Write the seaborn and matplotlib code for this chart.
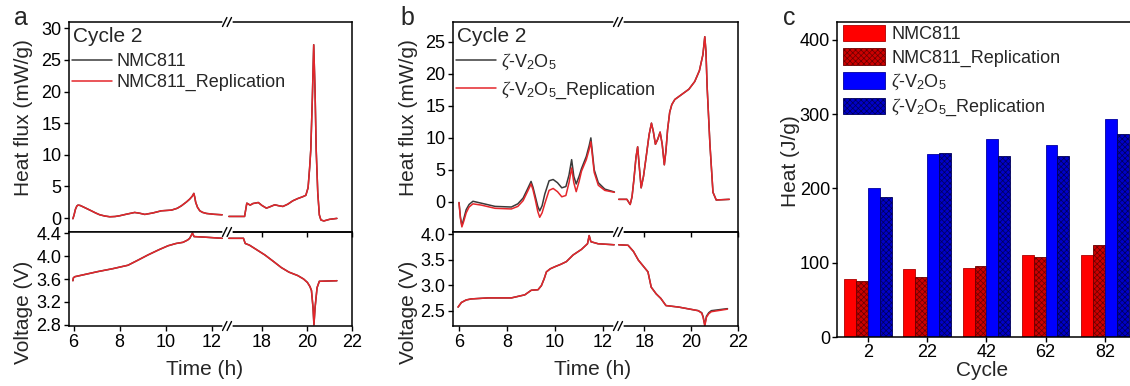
import numpy as np
import pandas as pd
import matplotlib
matplotlib.use("Agg")
import matplotlib.pyplot as plt
from matplotlib.lines import Line2D
import seaborn as sns

# ---------------- data ----------------
# Panel a : NMC811, cycle 2 -- heat flux (mW/g)
a_hf_t1 = [5.97, 6.02, 6.08, 6.14, 6.19, 6.28, 6.40, 6.60, 6.77, 6.95, 7.13, 7.35, 7.57, 7.80, 8.00, 8.30, 8.65, 8.85, 9.09, 9.45,
           9.81, 10.25, 10.50, 10.68, 10.90, 11.04, 11.15, 11.22, 11.26, 11.30, 11.38, 11.48, 11.60, 11.77, 12.10, 12.45]
a_hf_nmc1 = [-0.1, 0.5, 1.4, 1.9, 2.05, 2.0, 1.8, 1.45, 1.15, 0.82, 0.53, 0.33, 0.21, 0.25, 0.37, 0.62, 0.89, 0.78, 0.58, 0.82,
             1.15, 1.26, 1.55, 1.94, 2.55, 3.0, 3.45, 3.9, 3.3, 2.5, 1.7, 1.15, 0.9, 0.73, 0.6, 0.52]
a_hf_rep1 = [-0.1, 0.5, 1.4, 1.9, 2.05, 2.0, 1.8, 1.45, 1.15, 0.82, 0.53, 0.33, 0.21, 0.25, 0.37, 0.62, 0.89, 0.78, 0.58, 0.82,
             1.15, 1.26, 1.55, 1.94, 2.55, 3.0, 3.45, 3.9, 3.3, 2.5, 1.7, 1.15, 0.9, 0.73, 0.6, 0.52]
a_hf_t2 = [16.53, 17.23, 17.33, 17.48, 17.60, 17.84, 18.00, 18.20, 18.40, 18.57, 18.75, 18.93, 19.15, 19.37, 19.60, 19.80, 19.95,
           20.05, 20.12, 20.17, 20.24, 20.30, 20.36, 20.41, 20.48, 20.55, 20.62, 20.75, 21.00, 21.33]
a_hf_nmc2 = [0.26, 0.26, 2.36, 2.05, 2.3, 2.46, 2.0, 1.57, 1.85, 2.1, 1.95, 1.84, 2.2, 2.73, 3.1, 3.36, 3.6,
             4.8, 8.0, 10.8, 19.0, 27.4, 20.0, 10.8, 4.0, 0.5, -0.3, -0.45, -0.2, -0.05]
a_hf_rep2 = [0.26, 0.26, 2.36, 2.05, 2.3, 2.46, 2.0, 1.57, 1.85, 2.1, 1.95, 1.84, 2.2, 2.73, 3.1, 3.36, 3.6,
             4.8, 8.0, 10.8, 19.0, 27.4, 20.0, 10.8, 4.0, 0.5, -0.3, -0.45, -0.2, -0.05]
# Panel a : voltage (V)
a_v_t1 = [5.97, 5.99, 6.05, 6.50, 7.06, 7.70, 8.36, 8.80, 9.23, 9.70, 10.10, 10.45, 10.75, 10.95, 11.04, 11.16, 11.23, 11.70, 12.45]
a_v_nmc1 = [3.57, 3.62, 3.64, 3.68, 3.73, 3.78, 3.84, 3.93, 4.02, 4.11, 4.18, 4.22, 4.24, 4.28, 4.31, 4.40, 4.34, 4.33, 4.31]
a_v_rep1 = [3.57, 3.62, 3.64, 3.68, 3.73, 3.78, 3.84, 3.93, 4.02, 4.11, 4.18, 4.22, 4.24, 4.28, 4.31, 4.40, 4.34, 4.33, 4.31]
a_v_t2 = [16.53, 17.18, 17.26, 17.45, 17.69, 18.13, 18.50, 18.86, 19.20, 19.59, 19.85, 20.02, 20.13, 20.20, 20.27, 20.31,
          20.36, 20.45, 20.55, 21.33]
a_v_nmc2 = [4.31, 4.31, 4.22, 4.19, 4.13, 4.02, 3.91, 3.80, 3.72, 3.66, 3.60, 3.54, 3.47, 3.40, 3.10, 2.80,
            3.10, 3.45, 3.56, 3.57]
a_v_rep2 = [4.31, 4.31, 4.22, 4.19, 4.13, 4.02, 3.91, 3.80, 3.72, 3.66, 3.60, 3.54, 3.47, 3.40, 3.10, 2.80,
            3.10, 3.45, 3.56, 3.57]

# Panel b : zeta-V2O5, cycle 2 -- heat flux (mW/g)
b_hf_t1 = [6.00, 6.06, 6.12, 6.20, 6.30, 6.42, 6.58, 6.93, 7.50, 8.18, 8.45, 8.67, 8.85, 9.00, 9.08, 9.18, 9.28, 9.36, 9.46, 9.57,
           9.75, 9.92, 10.10, 10.28, 10.45, 10.58, 10.69, 10.78, 10.88, 11.00, 11.10, 11.30, 11.42, 11.49, 11.56, 11.63, 11.80,
           12.07, 12.47]
b_hf_v2o5_1 = [-0.1, -2.4, -3.7, -2.6, -1.2, -0.4, 0.1, -0.2, -0.7, -0.8, -0.3, 0.6, 2.0, 3.2, 2.3, 0.8, -0.7, -1.4, -0.6, 1.2,
               3.3, 3.5, 3.0, 2.2, 2.4, 4.2, 6.6, 4.0, 2.8, 4.0, 5.2, 7.1, 8.8, 10.0, 7.5, 5.0, 3.0,
               2.0, 1.55]
b_hf_rep1 = [-0.1, -2.6, -3.9, -3.0, -1.7, -0.8, -0.3, -0.5, -1.0, -1.1, -0.7, 0.2, 1.6, 2.8, 1.9, 0.3, -1.5, -2.4, -1.7, -0.3,
             1.8, 2.1, 1.6, 0.8, 1.0, 3.0, 5.3, 3.0, 1.6, 3.2, 4.8, 6.6, 8.2, 9.4, 7.0, 4.6, 2.6,
             1.8, 1.5]
b_hf_t2 = [16.90, 17.25, 17.39, 17.47, 17.55, 17.64, 17.71, 17.78, 17.86, 17.96, 18.08, 18.20, 18.30, 18.38, 18.47, 18.57,
           18.67, 18.76, 18.85, 18.92, 18.99, 19.08, 19.17, 19.30, 19.60, 19.90, 20.15, 20.35, 20.50, 20.58, 20.63, 20.68,
           20.80, 20.93, 21.07, 21.63]
b_hf_v2o5_2 = [0.4, 0.4, -0.4, 0.8, 3.5, 7.0, 8.6, 5.5, 2.2, 4.0, 7.2, 10.5, 12.3, 11.0, 9.0, 9.8,
               10.9, 9.0, 5.8, 8.0, 11.3, 14.0, 15.2, 16.0, 16.8, 17.6, 18.8, 20.5, 23.0, 25.8, 23.5, 18.0,
               9.0, 1.5, 0.3, 0.4]
b_hf_rep2 = [0.4, 0.4, -0.4, 0.8, 3.5, 7.0, 8.6, 5.5, 2.2, 4.0, 7.2, 10.5, 12.3, 11.0, 9.0, 9.8,
             10.9, 9.0, 5.8, 8.0, 11.3, 14.0, 15.2, 16.0, 16.8, 17.6, 18.8, 20.5, 23.0, 25.8, 23.5, 18.0,
             9.0, 1.5, 0.3, 0.4]
# Panel b : voltage (V)
b_v_t1 = [5.96, 6.10, 6.30, 6.51, 7.21, 8.18, 8.74, 9.01, 9.29, 9.43, 9.55, 9.64, 9.80, 9.99, 10.25, 10.47, 10.60, 10.75, 11.10,
          11.35, 11.42, 11.49, 11.79, 12.46]
b_v_v2o5_1 = [2.57, 2.66, 2.71, 2.73, 2.75, 2.75, 2.81, 2.90, 2.91, 2.99, 3.13, 3.26, 3.32, 3.36, 3.41, 3.46, 3.52, 3.59, 3.70,
              3.81, 3.97, 3.85, 3.81, 3.79]
b_v_rep1 = [2.57, 2.66, 2.71, 2.73, 2.75, 2.75, 2.81, 2.90, 2.91, 2.99, 3.13, 3.26, 3.32, 3.36, 3.41, 3.46, 3.52, 3.59, 3.70,
            3.81, 3.97, 3.85, 3.81, 3.79]
b_v_t2 = [16.90, 17.30, 17.53, 17.74, 18.15, 18.29, 18.50, 18.70, 18.92, 19.47, 20.30, 20.45, 20.51, 20.58, 20.65, 20.75,
          20.86, 21.55]
b_v_v2o5_2 = [3.79, 3.78, 3.66, 3.49, 3.26, 2.96, 2.83, 2.74, 2.60, 2.57, 2.50, 2.46, 2.38, 2.22, 2.39, 2.46,
              2.50, 2.54]
b_v_rep2 = [3.79, 3.78, 3.66, 3.49, 3.26, 2.96, 2.83, 2.74, 2.60, 2.57, 2.50, 2.45, 2.37, 2.20, 2.37, 2.44,
            2.48, 2.53]

# Panel c : total heat per cycle (J/g)
cycles = ["2", "22", "42", "62", "82"]
heat_nmc = [78, 92, 93, 110, 111]
heat_nmc_rep = [76, 81, 95, 108, 124]
heat_v2o5 = [201, 246, 266, 258, 293]
heat_v2o5_rep = [189, 247, 244, 243, 273]
series_labels = ["NMC811", "NMC811_Replication",
                 r"$\zeta$-V$_2$O$_5$", r"$\zeta$-V$_2$O$_5$_Replication"]

# ---------------- style ----------------
sns.set_style("ticks")
plt.rcParams["font.family"] = ["Liberation Sans", "DejaVu Sans"]
plt.rcParams["mathtext.fontset"] = "custom"
plt.rcParams["mathtext.rm"] = "Liberation Sans"
plt.rcParams["mathtext.sf"] = "Liberation Sans"
plt.rcParams["mathtext.it"] = "Liberation Serif:italic"
plt.rcParams["mathtext.bf"] = "Liberation Sans:bold"
plt.rcParams["axes.linewidth"] = 1.1
plt.rcParams["hatch.linewidth"] = 0.5

TICK_FS = 13
LAB_FS = 15
LEG_FS = 13
RED = "#e4262b"
BLACK = "#3a3a3a"

W, H = 1130, 386
fig = plt.figure(figsize=(W / 100, H / 100), dpi=100)


def add_ax(l, t, r, b):
    return fig.add_axes([l / W, 1 - b / H, (r - l) / W, (b - t) / H])


def style_ax(ax, left_side, bottom_labels):
    for s in ax.spines.values():
        s.set_linewidth(1.1)
        s.set_color("black")
    ax.tick_params(direction="out", length=3.5, width=1.0, labelsize=TICK_FS,
                   colors="black", pad=2)
    if left_side:
        ax.spines["right"].set_visible(False)
    else:
        ax.spines["left"].set_visible(False)
        ax.tick_params(left=False, labelleft=False)
        ax.patch.set_visible(False)
    ax.tick_params(labelbottom=bottom_labels)
    ax.set_xlabel("")
    ax.set_ylabel("")


def pline(ax, t, v, color, label=None):
    sns.lineplot(x=t, y=v, ax=ax, color=color, lw=1.1, estimator=None,
                 sort=False, label=label, legend=False)


def draw_break(xb, yb):
    yf = 1 - yb / H
    fig.add_artist(Line2D([(xb - 3.5) / W, (xb + 3.5) / W], [yf, yf],
                          color="white", lw=2.6, transform=fig.transFigure, zorder=10))
    for dx in (-2.3, 2.3):
        fig.add_artist(Line2D([(xb + dx - 2.2) / W, (xb + dx + 2.2) / W],
                              [1 - (yb + 4.5) / H, 1 - (yb - 4.5) / H],
                              color="black", lw=1.0, transform=fig.transFigure, zorder=11))


def broken_panel(x0, xb, x1, xl1, xl2, hf_ylim, hf_ticks, v_ylim, v_ticks,
                 hf_data, v_data, legend_labels, ylab_x, time_x,
                 leg_top, leg_spacing):
    top, mid, bot = 22, 232, 326
    hfL = add_ax(x0, top, xb, mid)
    hfR = add_ax(xb, top, x1, mid)
    vL = add_ax(x0, mid, xb, bot)
    vR = add_ax(xb, mid, x1, bot)
    (t1, k1, r1), (t2, k2, r2) = hf_data
    pline(hfL, t1, k1, BLACK, legend_labels[0])
    pline(hfL, t1, r1, RED, legend_labels[1])
    pline(hfR, t2, k2, BLACK)
    pline(hfR, t2, r2, RED)
    (vt1, vk1, vr1), (vt2, vk2, vr2) = v_data
    pline(vL, vt1, vk1, BLACK)
    pline(vL, vt1, vr1, RED)
    pline(vR, vt2, vk2, BLACK)
    pline(vR, vt2, vr2, RED)
    for ax, left in ((hfL, True), (hfR, False), (vL, True), (vR, False)):
        style_ax(ax, left, ax in (vL, vR))
    for ax in (hfL, hfR):
        ax.set_ylim(*hf_ylim)
        ax.set_yticks(hf_ticks)
    for ax in (vL, vR):
        ax.set_ylim(*v_ylim)
        ax.set_yticks(v_ticks)
        ax.set_yticklabels([f"{v:.1f}" for v in v_ticks])
    for ax in (hfL, vL):
        ax.set_xlim(*xl1)
        ax.set_xticks([6, 8, 10, 12])
    for ax in (hfR, vR):
        ax.set_xlim(*xl2)
        ax.set_xticks([18, 20, 22])
    hfL.set_yticklabels([str(v) for v in hf_ticks])
    hfL.set_ylabel("Heat flux (mW/g)", fontsize=LAB_FS, labelpad=0)
    hfL.yaxis.set_label_coords(ylab_x / W, 1 - 118 / H, transform=fig.transFigure)
    vL.set_ylabel("Voltage (V)", fontsize=LAB_FS, labelpad=0)
    vL.yaxis.set_label_coords(ylab_x / W, 1 - 312 / H, transform=fig.transFigure)
    vL.set_xlabel("Time (h)", fontsize=LAB_FS)
    vL.xaxis.set_label_coords(time_x / W, 1 - 360 / H, transform=fig.transFigure)
    # "Cycle 2" heading and legend
    fig.text((x0 + 4) / W, 1 - 37 / H, "Cycle 2", fontsize=LAB_FS,
             ha="left", va="center", zorder=20)
    h, l = hfL.get_legend_handles_labels()
    leg = hfL.legend(h, l, fontsize=LEG_FS, loc="upper left",
                     bbox_to_anchor=((x0 + 3) / W, 1 - leg_top / H),
                     bbox_transform=fig.transFigure, frameon=False,
                     handlelength=2.2, handletextpad=0.28,
                     labelspacing=leg_spacing, borderpad=0.0, borderaxespad=0.0)
    leg.set_zorder(20)
    for b_y in (top, mid, bot):
        draw_break(xb, b_y)


broken_panel(69, 227, 352, (5.80, 12.66), (16.45, 22.0),
             (-2.2, 31.0), [0, 5, 10, 15, 20, 25, 30],
             (2.78, 4.42), [2.8, 3.2, 3.6, 4.0, 4.4],
             ((a_hf_t1, a_hf_nmc1, a_hf_rep1), (a_hf_t2, a_hf_nmc2, a_hf_rep2)),
             ((a_v_t1, a_v_nmc1, a_v_rep1), (a_v_t2, a_v_nmc2, a_v_rep2)),
             ["NMC811", "NMC811_Replication"], 33, 205, 53, 0.22)

broken_panel(453, 618, 738, (5.75, 12.62), (16.87, 22.0),
             (-4.7, 28.1), [0, 5, 10, 15, 20, 25],
             (2.2, 4.04), [2.5, 3.0, 3.5, 4.0],
             ((b_hf_t1, b_hf_v2o5_1, b_hf_rep1), (b_hf_t2, b_hf_v2o5_2, b_hf_rep2)),
             ((b_v_t1, b_v_v2o5_1, b_v_rep1), (b_v_t2, b_v_v2o5_2, b_v_rep2)),
             [r"$\zeta$-V$_2$O$_5$", r"$\zeta$-V$_2$O$_5$_Replication"], 418, 593, 51, 0.43)

# ---------------- panel c ----------------
axc = add_ax(837, 22, 837 + 5.02 * 59.25, 337)
df = pd.DataFrame({
    "Cycle": cycles * 4,
    "Heat": heat_nmc + heat_nmc_rep + heat_v2o5 + heat_v2o5_rep,
    "Series": sum([[s] * len(cycles) for s in series_labels], []),
})
face = ["#ff0000", "#cc0000", "#0000ff", "#0000c8"]
edge = ["#b00000", "#6a0000", "#0000a0", "#00005a"]
sns.barplot(data=df, x="Cycle", y="Heat", hue="Series", hue_order=series_labels,
            palette=face, saturation=1, width=0.8, ax=axc, legend=False, errorbar=None)
for i, cont in enumerate(axc.containers):
    for p in cont.patches:
        p.set_edgecolor(edge[i])
        p.set_linewidth(0.6)
        if i in (1, 3):
            p.set_hatch("xxxxxx")
axc.set_xlim(-0.523, 4.5)
axc.set_ylim(0, 424)
axc.set_yticks([0, 100, 200, 300, 400])
for s in axc.spines.values():
    s.set_linewidth(1.1)
    s.set_color("black")
axc.spines["right"].set_visible(False)
axc.tick_params(direction="out", length=3.5, width=1.0, labelsize=TICK_FS,
                colors="black", pad=1.5)
axc.set_ylabel("Heat (J/g)", fontsize=LAB_FS, labelpad=0)
axc.yaxis.set_label_coords(800 / W, 1 - 161 / H, transform=fig.transFigure)
axc.set_xlabel("Cycle", fontsize=LAB_FS)
axc.xaxis.set_label_coords(982 / W, 1 - 361 / H, transform=fig.transFigure)
axc.legend(axc.containers, series_labels, fontsize=LEG_FS, loc="upper left",
           bbox_to_anchor=(0.0, 1.012), frameon=False, handlelength=2.3,
           handleheight=1.05, handletextpad=0.35, labelspacing=0.27,
           borderpad=0.15, borderaxespad=0.2)

for txt, x in (("a", 21), ("b", 407), ("c", 789)):
    fig.text(x / W, 1 - 18 / H, txt, fontsize=18, ha="center", va="center")

fig.savefig("out.png", dpi=100)
